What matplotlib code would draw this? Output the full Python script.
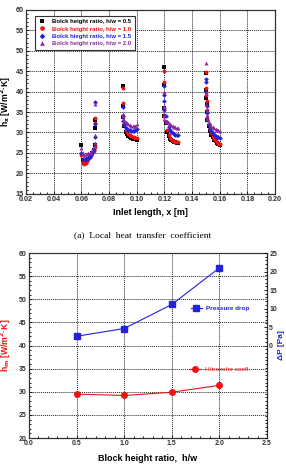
import matplotlib
matplotlib.use("Agg")
import matplotlib.pyplot as plt
from matplotlib.ticker import MultipleLocator, FixedLocator, FormatStrFormatter

# ---------------- data: local heat transfer coefficient ----------------
X_C1 = [0.060, 0.061, 0.062, 0.063, 0.064, 0.065, 0.066, 0.067, 0.068, 0.069, 0.070, 0.070, 0.070]
X_C2 = [0.090, 0.090, 0.090, 0.091, 0.092, 0.093, 0.094, 0.095, 0.096, 0.097, 0.098, 0.099, 0.100]
X_C3 = [0.120, 0.120, 0.120, 0.120, 0.121, 0.122, 0.123, 0.124, 0.125, 0.126, 0.127, 0.128, 0.129, 0.130]
X_C4 = [0.150, 0.1502, 0.1504, 0.1506, 0.1508, 0.151, 0.152, 0.153, 0.154, 0.155, 0.156, 0.157, 0.158, 0.159, 0.160]

h05_c1 = [27.0, 23.2, 22.6, 22.8, 23.2, 23.6, 24.1, 24.5, 25.0, 25.6, 27.0, 31.0, 33.0]
h05_c2 = [41.3, 36.5, 33.8, 31.6, 30.2, 29.6, 29.2, 28.9, 28.7, 28.5, 28.4, 28.3, 28.2]
h05_c3 = [46.0, 41.5, 36.0, 34.0, 32.4, 30.2, 29.1, 28.5, 28.1, 27.9, 27.7, 27.6, 27.5, 27.5]
h05_c4 = [44.5, 40.5, 38.5, 37.0, 35.0, 33.0, 31.5, 30.4, 29.5, 28.8, 28.2, 27.8, 27.4, 27.1, 26.9]

h10_c1 = [24.5, 22.8, 22.4, 22.6, 23.0, 23.5, 24.0, 24.4, 24.9, 25.5, 26.5, 32.4, 33.5]
h10_c2 = [40.9, 37.1, 34.1, 32.0, 30.6, 30.0, 29.6, 29.3, 29.1, 28.9, 28.8, 28.7, 28.6]
h10_c3 = [45.0, 42.3, 36.0, 34.1, 32.5, 30.5, 29.3, 28.7, 28.3, 28.0, 27.8, 27.7, 27.6, 27.6]
h10_c4 = [44.7, 41.0, 39.1, 37.8, 35.4, 33.5, 32.0, 30.9, 29.8, 29.0, 28.4, 28.0, 27.6, 27.3, 27.1]

h15_c1 = [25.0, 23.6, 23.4, 23.5, 23.6, 23.8, 24.1, 24.5, 25.0, 25.7, 29.0, 32.2, 37.5]
h15_c2 = [36.3, 34.0, 32.8, 31.8, 31.2, 30.9, 30.7, 30.5, 30.4, 30.3, 30.3, 30.5, 30.8]
h15_c3 = [41.3, 39.2, 37.8, 35.4, 34.0, 32.5, 31.3, 30.6, 30.1, 29.8, 29.6, 29.4, 29.3, 29.3]
h15_c4 = [43.2, 42.3, 39.9, 36.6, 34.8, 33.0, 31.8, 31.0, 30.4, 29.9, 29.5, 29.2, 29.0, 28.8, 28.6]

h20_c1 = [26.2, 25.0, 24.6, 24.7, 24.8, 24.9, 25.0, 25.3, 25.8, 26.5, 27.5, 29.5, 36.9]
h20_c2 = [34.5, 34.0, 33.4, 33.0, 32.6, 32.3, 32.0, 31.8, 31.6, 31.5, 31.5, 31.7, 32.0]
h20_c3 = [40.0, 36.6, 34.5, 33.2, 32.9, 32.5, 32.2, 32.0, 31.8, 31.6, 31.4, 31.3, 31.2, 31.2]
h20_c4 = [47.0, 40.0, 37.0, 35.5, 34.3, 33.4, 32.6, 32.0, 31.6, 31.3, 31.0, 30.8, 30.6, 30.5, 30.4]

series_labels = ["Bolck height ratio, h/w = 0.5", "Bolck height ratio, h/w = 1.0",
                 "Bolck hieght ratio, h/w = 1.5", "Bolck height ratio, h/w = 2.0"]

# ---------------- data: averaged values ----------------
ratio = [0.5, 1.0, 1.5, 2.0]
h_mean = [29.5, 29.2, 29.9, 31.4]
dp = [2.5, 4.6, 11.1, 21.0]

# ---------------- styling ----------------
RED = "#ee1111"
BLUE = "#2222dd"
PURPLE = "#8a2a9a"
colors = ["black", RED, BLUE, PURPLE]
markers = ["s", "o", "D", "^"]
msizes = [2.4, 2.8, 2.4, 2.8]

plt.rcParams["font.family"] = ["Liberation Sans", "DejaVu Sans"]
plt.rcParams["font.weight"] = "bold"

fig = plt.figure(figsize=(2.86, 4.66), dpi=100)

# ---------------- top plot ----------------
ax1 = fig.add_axes([0.091, 0.584, 0.871, 0.395])
xs = X_C1 + X_C2 + X_C3 + X_C4
all_series = [h05_c1 + h05_c2 + h05_c3 + h05_c4,
              h10_c1 + h10_c2 + h10_c3 + h10_c4,
              h15_c1 + h15_c2 + h15_c3 + h15_c4,
              h20_c1 + h20_c2 + h20_c3 + h20_c4]
for ys, c, m, ms, lab in zip(all_series, colors, markers, msizes, series_labels):
    ax1.plot(xs, ys, linestyle="none", marker=m, color=c, markersize=ms,
             markeredgewidth=0, label=lab)

ax1.set_xlim(0.02, 0.20)
ax1.set_ylim(15, 60)
ax1.xaxis.set_major_locator(MultipleLocator(0.02))
ax1.yaxis.set_major_locator(MultipleLocator(5))
ax1.yaxis.set_minor_locator(MultipleLocator(1))
ax1.xaxis.set_minor_locator(MultipleLocator(0.005))
ax1.xaxis.set_major_formatter(FormatStrFormatter("%.2f"))
ax1.grid(True, which="major", color="#222222", linestyle=(0, (1, 1)), linewidth=0.7)
ax1.tick_params(which="both", direction="in", labelsize=5.2, pad=1.5, width=0.6)
ax1.tick_params(which="major", length=2.5)
ax1.tick_params(which="minor", length=1.3)
for lbl in ax1.get_xticklabels() + ax1.get_yticklabels():
    lbl.set_fontweight("bold")
    lbl.set_color("#333333")
for s in ax1.spines.values():
    s.set_linewidth(0.9)
    s.set_color("#333333")
ax1.set_xlabel("Inlet length, x [m]", fontsize=6.5, fontweight="bold", labelpad=4)
ax1.set_ylabel("h$_\\mathbf{x}$ [W/m$^\\mathbf{2}$·K]", fontsize=6.2, fontweight="bold", labelpad=2)
leg1 = ax1.legend(loc="upper left", bbox_to_anchor=(0.025, 0.985), fontsize=4.3,
                  frameon=True, fancybox=False, edgecolor="#333333", framealpha=1,
                  handlelength=1.2, handletextpad=1.0, borderpad=0.6, labelspacing=0.35,
                  markerscale=1.2)
leg1.get_frame().set_linewidth(0.8)
for t, c in zip(leg1.get_texts(), colors):
    t.set_color(c)
    t.set_fontweight("bold")

fig.text(0.5, 0.496, "(a)  Local  heat  transfer  coefficient", ha="center", va="center",
         fontsize=6.8, family=["Liberation Serif", "DejaVu Serif"], fontweight="normal")

# ---------------- bottom plot ----------------
ax2 = fig.add_axes([0.101, 0.060, 0.833, 0.397])
ax2.plot(ratio, h_mean, color=RED, marker="o", markersize=4, linewidth=0.8,
         label="H/transfer coeff.")
ax2.set_xlim(0.0, 2.5)
ax2.set_ylim(20, 60)
ax2.xaxis.set_major_locator(MultipleLocator(0.5))
ax2.xaxis.set_minor_locator(MultipleLocator(0.1))
ax2.yaxis.set_major_locator(MultipleLocator(5))
ax2.yaxis.set_minor_locator(MultipleLocator(1))
ax2.xaxis.set_major_formatter(FormatStrFormatter("%.1f"))
ax2.grid(True, which="major", color="#222222", linestyle=(0, (1, 1)), linewidth=0.7)
ax2.tick_params(which="both", direction="in", labelsize=5.0, pad=1.5, width=0.6)
ax2.tick_params(which="major", length=2.5)
ax2.tick_params(which="minor", length=1.3)
for lbl in ax2.get_xticklabels() + ax2.get_yticklabels():
    lbl.set_fontweight("bold")
    lbl.set_color("#333333")
for s in ax2.spines.values():
    s.set_linewidth(0.9)
    s.set_color("#333333")
ax2.set_xlabel("Block height ratio,  h/w", fontsize=6.5, fontweight="bold", labelpad=5)
ax2.set_ylabel("h$_\\mathbf{m}$ [W/m$^\\mathbf{2}$·K]", fontsize=6.2, fontweight="bold",
               color=RED, labelpad=4)

ax3 = ax2.twinx()
ax3.plot(ratio, dp, color=BLUE, marker="s", markersize=4, linewidth=0.8,
         label="Pressure drop")
ax3.set_ylim(-25, 25)
ax3.yaxis.set_major_locator(FixedLocator([0, 5, 10, 15, 20, 25]))
ax3.yaxis.set_minor_locator(FixedLocator([v for v in range(-25, 26) if v % 5 != 0 or v < 0]))
ax3.tick_params(which="both", direction="in", labelsize=5.0, pad=1.5, width=0.6)
ax3.tick_params(which="major", length=2.5)
ax3.tick_params(which="minor", length=1.3)
for lbl in ax3.get_yticklabels():
    lbl.set_fontweight("bold")
    lbl.set_color("#333333")
for s in ax3.spines.values():
    s.set_visible(False)
ax3.set_ylabel("ΔP [Pa]", fontsize=6.0, fontweight="bold", color=BLUE, labelpad=1)

leg3 = ax3.legend(loc="center left", bbox_to_anchor=(0.655, 0.70), fontsize=4.6,
                  frameon=False, handlelength=1.8, handletextpad=0.6)
for t in leg3.get_texts():
    t.set_color(BLUE)
    t.set_fontweight("bold")
leg2 = ax2.legend(loc="center left", bbox_to_anchor=(0.65, 0.373), fontsize=4.6,
                  frameon=False, handlelength=1.8, handletextpad=0.6)
for t in leg2.get_texts():
    t.set_color(RED)
    t.set_fontweight("normal")

fig.savefig("out.png", dpi=100)
